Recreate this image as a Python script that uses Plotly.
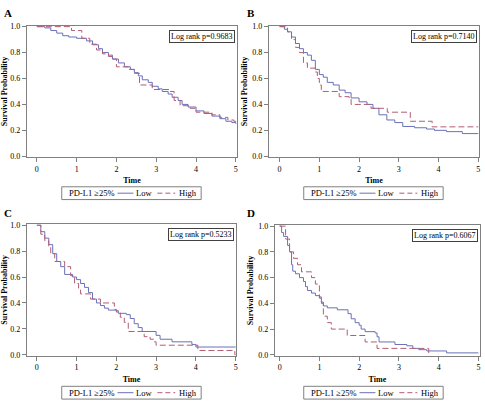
import plotly.graph_objects as go

W, H = 485, 408

# ---------------- data (step times, survival) ----------------
A_low_t = [0, 0.2, 0.35, 0.5, 0.65, 0.8, 1.0, 1.25, 1.4, 1.55, 1.65, 1.8, 1.9, 2.05, 2.2, 2.35, 2.45, 2.55, 2.65, 2.8, 2.9, 3.05, 3.15, 3.3, 3.4, 3.55, 3.65, 3.8, 4.0, 4.2, 4.4, 4.6, 4.75, 4.9, 5.0]
A_low_s = [1.0, 0.99, 0.97, 0.95, 0.93, 0.92, 0.91, 0.89, 0.86, 0.83, 0.80, 0.78, 0.75, 0.72, 0.69, 0.67, 0.645, 0.62, 0.59, 0.57, 0.54, 0.52, 0.50, 0.48, 0.455, 0.43, 0.40, 0.38, 0.35, 0.33, 0.31, 0.29, 0.27, 0.26, 0.25]
A_high_t = [0, 0.87, 1.13, 1.33, 1.5, 1.65, 1.8, 1.9, 2.0, 2.3, 2.45, 2.58, 2.9, 3.32, 3.45, 3.6, 3.85, 4.0, 4.4, 4.6, 4.8, 4.95, 5.0]
A_high_s = [1.0, 0.97, 0.91, 0.865, 0.82, 0.79, 0.77, 0.75, 0.69, 0.67, 0.64, 0.55, 0.515, 0.50, 0.43, 0.39, 0.37, 0.34, 0.32, 0.30, 0.28, 0.27, 0.25]

B_low_t = [0, 0.12, 0.2, 0.3, 0.4, 0.5, 0.6, 0.7, 0.8, 0.9, 1.0, 1.1, 1.2, 1.35, 1.5, 1.65, 1.8, 2.0, 2.2, 2.35, 2.5, 2.7, 2.9, 3.1, 3.4, 3.7, 3.9, 4.2, 4.6, 5.0]
B_low_s = [1.0, 0.98, 0.96, 0.92, 0.87, 0.83, 0.80, 0.78, 0.74, 0.67, 0.63, 0.61, 0.57, 0.55, 0.51, 0.49, 0.45, 0.42, 0.40, 0.37, 0.32, 0.28, 0.26, 0.23, 0.22, 0.21, 0.20, 0.19, 0.175, 0.175]
B_high_t = [0, 0.2, 0.3, 0.4, 0.5, 0.6, 0.7, 0.9, 0.95, 1.0, 1.05, 1.5, 1.75, 1.8, 2.3, 2.71, 3.29, 3.84, 5.0]
B_high_s = [1.0, 0.96, 0.90, 0.84, 0.80, 0.72, 0.68, 0.65, 0.60, 0.55, 0.50, 0.46, 0.45, 0.40, 0.37, 0.34, 0.27, 0.227, 0.227]

C_low_t = [0, 0.1, 0.2, 0.3, 0.4, 0.5, 0.6, 0.7, 0.9, 1.0, 1.1, 1.2, 1.3, 1.4, 1.5, 1.6, 1.7, 1.8, 2.0, 2.05, 2.25, 2.35, 2.45, 2.55, 2.65, 3.0, 3.1, 3.4, 3.9, 4.0, 5.0]
C_low_s = [1.0, 0.95, 0.90, 0.85, 0.78, 0.72, 0.68, 0.62, 0.60, 0.58, 0.55, 0.52, 0.48, 0.43, 0.40, 0.38, 0.36, 0.345, 0.34, 0.32, 0.31, 0.28, 0.24, 0.21, 0.18, 0.15, 0.12, 0.10, 0.08, 0.06, 0.06]
C_high_t = [0, 0.1, 0.2, 0.3, 0.35, 0.45, 0.7, 0.85, 0.95, 1.05, 1.1, 1.35, 1.6, 1.95, 2.0, 2.1, 2.2, 2.3, 2.7, 2.85, 2.95, 3.0, 4.05, 4.98, 5.0]
C_high_s = [1.0, 0.93, 0.88, 0.83, 0.78, 0.72, 0.68, 0.61, 0.55, 0.50, 0.47, 0.43, 0.40, 0.35, 0.33, 0.29, 0.25, 0.18, 0.14, 0.12, 0.10, 0.074, 0.033, 0.0, 0.0]

D_low_t = [0, 0.05, 0.1, 0.2, 0.25, 0.3, 0.33, 0.4, 0.5, 0.6, 0.65, 0.7, 0.8, 0.9, 1.0, 1.05, 1.1, 1.2, 1.45, 1.72, 1.8, 1.9, 2.0, 2.05, 2.15, 2.4, 2.45, 2.5, 2.9, 3.2, 3.35, 3.5, 3.7, 4.2, 5.0]
D_low_s = [1.0, 0.95, 0.92, 0.85, 0.80, 0.70, 0.65, 0.63, 0.60, 0.57, 0.53, 0.50, 0.48, 0.46, 0.44, 0.41, 0.38, 0.365, 0.35, 0.32, 0.28, 0.25, 0.23, 0.20, 0.18, 0.17, 0.14, 0.10, 0.08, 0.07, 0.05, 0.04, 0.03, 0.015, 0.015]
D_high_t = [0, 0.15, 0.25, 0.35, 0.45, 0.55, 0.8, 0.9, 1.0, 1.05, 1.1, 1.2, 1.3, 1.7, 2.15, 2.45, 3.75]
D_high_s = [1.0, 0.90, 0.80, 0.75, 0.70, 0.645, 0.60, 0.55, 0.45, 0.40, 0.30, 0.25, 0.20, 0.15, 0.10, 0.05, 0.0]

panel_letters = ["A", "B", "C", "D"]
pvalues = ["Log rank p=0.9683", "Log rank p=0.7140", "Log rank p=0.5233", "Log rank p=0.6067"]
legend_title = "PD-L1 ≥25%"
group_names = ["Low", "High"]
x_ticks = [0, 1, 2, 3, 4, 5]
y_ticks = [0.0, 0.2, 0.4, 0.6, 0.8, 1.0]

low_series = [(A_low_t, A_low_s), (B_low_t, B_low_s), (C_low_t, C_low_s), (D_low_t, D_low_s)]
high_series = [(A_high_t, A_high_s), (B_high_t, B_high_s), (C_high_t, C_high_s), (D_high_t, D_high_s)]

# ---------------- layout geometry (pixels) ----------------
areas = [(27, 238, 23, 157), (270, 481, 23, 157), (27, 237, 225, 359), (276, 482, 226, 359)]
xranges = [[-0.25, 5.03], [-0.27, 5.02], [-0.25, 5.01], [-0.12, 5.04]]
legend_origin = [(62, 187), (305, 187), (62, 390), (305, 390)]   # top-left of legend box
letter_pos = [(2, 2), (246, 2), (2, 206), (246, 206)]

BLUE = "#6b70b8"
RED = "#b35d72"
AX = "#808080"
FONT = "Liberation Serif"

def px(x):
    return x / W

def py(y):
    return 1 - y / H

fig = go.Figure()

for i in range(4):
    xa = "x" if i == 0 else f"x{i+1}"
    ya = "y" if i == 0 else f"y{i+1}"
    lt, ls = low_series[i]
    ht, hs = high_series[i]
    fig.add_trace(go.Scatter(x=lt, y=ls, mode="lines", line=dict(color=BLUE, width=1, shape="hv"),
                             name=group_names[0], xaxis=xa, yaxis=ya, showlegend=False))
    fig.add_trace(go.Scatter(x=ht, y=hs, mode="lines", line=dict(color=RED, width=1, shape="hv", dash="6px,3px"),
                             name=group_names[1], xaxis=xa, yaxis=ya, showlegend=False))

layout = dict(
    width=W, height=H, margin=dict(l=0, r=0, t=0, b=0),
    paper_bgcolor="white", plot_bgcolor="white",
    font=dict(family=FONT, size=8, color="black"),
    showlegend=False,
)

annotations = []
shapes = []
for i in range(4):
    l, r, t, b = areas[i]
    xk = "xaxis" if i == 0 else f"xaxis{i+1}"
    yk = "yaxis" if i == 0 else f"yaxis{i+1}"
    yname = "y" if i == 0 else f"y{i+1}"
    xname = "x" if i == 0 else f"x{i+1}"
    layout[xk] = dict(domain=[px(l), px(r)], anchor=yname, range=xranges[i],
                      tickvals=x_ticks, ticks="outside", ticklen=4, tickcolor=AX,
                      showline=True, linecolor=AX, linewidth=1, mirror=True,
                      showgrid=False, zeroline=False,
                      tickfont=dict(family=FONT, size=8),
                      title=dict(text="<b>Time</b>", font=dict(family=FONT, size=8), standoff=4))
    layout[yk] = dict(domain=[py(b), py(t)], anchor=xname, range=[-0.008, 1.008],
                      tickvals=y_ticks, tickformat=".1f", ticks="outside", ticklen=4, tickcolor=AX,
                      showline=True, linecolor=AX, linewidth=1, mirror=True,
                      showgrid=False, zeroline=False,
                      tickfont=dict(family=FONT, size=8),
                      title=dict(text="<b>Survival Probability</b>", font=dict(family=FONT, size=8), standoff=3))

    # panel letter
    lx, ly = letter_pos[i]
    annotations.append(dict(text=f"<b>{panel_letters[i]}</b>", x=px(lx), y=py(ly), xref="paper", yref="paper",
                            xanchor="left", yanchor="top", showarrow=False,
                            font=dict(family=FONT, size=11, color="black")))
    # log rank box
    annotations.append(dict(text=pvalues[i], x=0.99, y=0.97,
                            xref=f"{xname} domain", yref=f"{yname} domain",
                            xanchor="right", yanchor="top", showarrow=False,
                            bordercolor="#404040", borderwidth=1, borderpad=1, bgcolor="white",
                            font=dict(family=FONT, size=8, color="black")))

    # legend (box, title, samples, labels)
    ox, oy = legend_origin[i]
    cy = oy + 6.5
    shapes.append(dict(type="rect", xref="paper", yref="paper",
                       x0=px(ox), x1=px(ox + 140), y0=py(oy), y1=py(oy + 13),
                       line=dict(color=AX, width=1), fillcolor="white", layer="above"))
    annotations.append(dict(text=legend_title, x=px(ox + 5), y=py(cy), xref="paper", yref="paper",
                            xanchor="left", yanchor="middle", showarrow=False,
                            font=dict(family=FONT, size=8.5, color="black")))
    shapes.append(dict(type="line", xref="paper", yref="paper",
                       x0=px(ox + 56), x1=px(ox + 72), y0=py(cy), y1=py(cy),
                       line=dict(color=BLUE, width=1), layer="above"))
    annotations.append(dict(text=group_names[0], x=px(ox + 73), y=py(cy), xref="paper", yref="paper",
                            xanchor="left", yanchor="middle", showarrow=False,
                            font=dict(family=FONT, size=8.5, color="black")))
    shapes.append(dict(type="line", xref="paper", yref="paper",
                       x0=px(ox + 96), x1=px(ox + 114), y0=py(cy), y1=py(cy),
                       line=dict(color=RED, width=1, dash="5px,3px"), layer="above"))
    annotations.append(dict(text=group_names[1], x=px(ox + 116), y=py(cy), xref="paper", yref="paper",
                            xanchor="left", yanchor="middle", showarrow=False,
                            font=dict(family=FONT, size=8.5, color="black")))

layout["annotations"] = annotations
layout["shapes"] = shapes
fig.update_layout(**layout)
fig.write_html("out.html")
